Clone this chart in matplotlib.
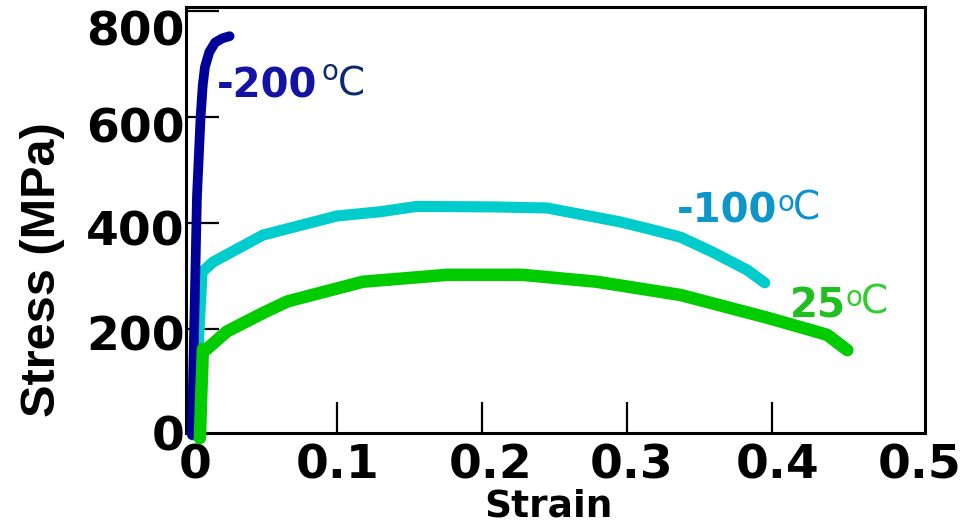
import numpy as np
import matplotlib.pyplot as plt

# curvas esfuerzo-deformación
deform_m200 = [0.0, 0.0035, 0.006, 0.0075, 0.009, 0.012, 0.016, 0.021, 0.026]
esfuerzo_m200 = [0, 450, 600, 660, 694, 722, 740, 748, 752]

deform_m100 = [0.0007, 0.004, 0.007, 0.0145, 0.049, 0.10, 0.13, 0.155, 0.21, 0.245,
               0.295, 0.316, 0.337, 0.359, 0.383, 0.395]
esfuerzo_m100 = [0, 150, 307, 326, 377, 413, 421, 431, 430, 428,
                 402, 388, 373, 345, 311, 287]

deform_25 = [0.0055, 0.0065, 0.0076, 0.0103, 0.024, 0.049, 0.066, 0.118, 0.176, 0.228,
             0.279, 0.337, 0.397, 0.438, 0.452]
esfuerzo_25 = [-6, 80, 162, 162, 195, 230, 252, 289, 302, 302,
               289, 264, 221, 189, 160]

ticks_x = [0.1, 0.2, 0.3, 0.4]
etiquetas_x = ['0', '0.1', '0.2', '0.3', '0.4', '0.5']
# en el original las etiquetas x quedan un poco corridas a la derecha
pos_etiquetas_x = [0.002, 0.1003, 0.206, 0.303, 0.404, 0.502]
ticks_y = [200, 400, 600, 800]
etiquetas_y = ['0', '200', '400', '600', '800']
# las etiquetas del eje y tampoco están alineadas con las marcas
pos_etiquetas_y = [3.5, 192, 391, 584, 767]

plt.rcParams['font.family'] = ['DejaVu Sans']
plt.rcParams['font.weight'] = 'bold'

fig = plt.figure(figsize=(9.68, 5.24), dpi=100)
ax = fig.add_axes([0.1921, 0.1729, 0.7634, 0.8137])

ax.plot(deform_m200, esfuerzo_m200, color='#000099', lw=7,
        solid_capstyle='round', solid_joinstyle='round', clip_on=False, zorder=3)
ax.plot(deform_m100, esfuerzo_m100, color='#00cccc', lw=8,
        solid_capstyle='round', solid_joinstyle='round', clip_on=False, zorder=2)
ax.plot(deform_25, esfuerzo_25, color='#00cc00', lw=9,
        solid_capstyle='round', solid_joinstyle='round', clip_on=False, zorder=4)

ax.set_xlim(-0.0041, 0.5055)
ax.set_ylim(3, 807)

# marcas hacia adentro, sin etiqueta
ax.set_xticks(ticks_x)
ax.set_yticks(ticks_y)
ax.tick_params(which='major', direction='in', width=1.6, labelbottom=False, labelleft=False)
ax.tick_params(axis='x', which='major', length=22)
ax.tick_params(axis='y', which='major', length=24)

# etiquetas como ticks menores de largo cero
ax.xaxis.remove_overlapping_locs = False
ax.yaxis.remove_overlapping_locs = False
ax.set_xticks(pos_etiquetas_x, labels=etiquetas_x, minor=True)
ax.set_yticks(pos_etiquetas_y, labels=etiquetas_y, minor=True)
ax.tick_params(which='minor', length=0, labelsize=34)
ax.tick_params(axis='x', which='minor', pad=7)
ax.tick_params(axis='y', which='minor', pad=1)

for s in ax.spines.values():
    s.set_linewidth(2.2)

ax.set_xlabel('Strain', fontsize=27, fontweight='bold', va='baseline')
ax.xaxis.set_label_coords(0.49, -0.196)
ax.set_ylabel('Stress (MPa)', fontsize=35, fontweight='bold', family='Liberation Sans',
              va='baseline', rotation_mode='anchor')
ax.yaxis.set_label_coords(-0.1773, 0.383)

# rótulos de temperatura
def rotulo(x_num, y_num, numero, x_o, y_o, x_c, y_c, col_num, col_c):
    ax.text(x_num, y_num, numero, fontsize=29, fontweight='bold', color=col_num,
            ha='left', va='baseline')
    ax.text(x_o, y_o, 'o', fontsize=20, fontweight='normal', color=col_c,
            ha='left', va='baseline')
    ax.text(x_c, y_c, 'C', fontsize=28, fontweight='normal', color=col_c,
            ha='left', va='baseline')

rotulo(0.0172, 636, '-200', 0.0895, 669, 0.1005, 641, '#1414a4', '#0d2a6e')
rotulo(0.3345, 400, '-100', 0.4035, 422, 0.4145, 406, '#0e96c8', '#0a92d0')
rotulo(0.4124, 221, '25', 0.4505, 244, 0.4615, 230, '#1fbf1f', '#33cc33')

fig.savefig('out.png', dpi=100)
